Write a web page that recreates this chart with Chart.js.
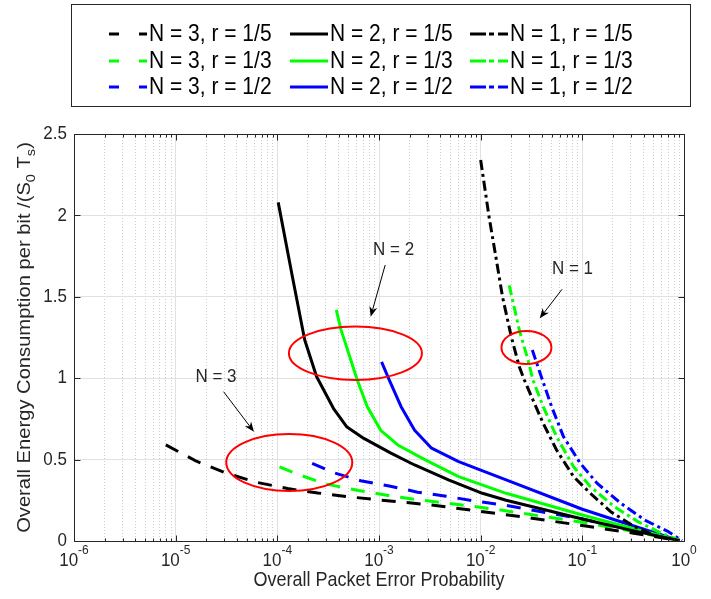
<!DOCTYPE html>
<html>
<head>
<meta charset="utf-8">
<script src="https://cdn.jsdelivr.net/npm/chart.js@4.4.1/dist/chart.umd.min.js"></script>
<style>
  html, body { margin: 0; padding: 0; background: #fff; }
  #wrap { width: 711px; height: 599px; }
</style>
</head>
<body>
<div id="wrap"><canvas id="grafico" width="711" height="599"></canvas></div>
<script>
// =============================================
//  DATA
// =============================================
// N = 3 (dashed)
const xN3r5 = [8.0e-6, 1.6e-5, 3.2e-5, 6.3e-5, 1.26e-4, 2.5e-4, 5.0e-4, 1.0e-3, 3.2e-3, 1.0e-2, 3.2e-2, 0.1, 0.32, 0.89];
const yN3r5 = [0.59, 0.49, 0.415, 0.36, 0.322, 0.295, 0.272, 0.252, 0.222, 0.182, 0.14, 0.095, 0.048, 0.003];
const xN3r3 = [1.05e-4, 1.58e-4, 3.0e-4, 6.3e-4, 1.23e-3, 2.29e-3, 4.27e-3, 8.3e-3, 1.58e-2, 0.1, 0.32, 0.89];
const yN3r3 = [0.456, 0.41, 0.35, 0.31, 0.28, 0.255, 0.235, 0.213, 0.19, 0.115, 0.058, 0.003];
const xN3r2 = [2.2e-4, 3.55e-4, 6.6e-4, 1.26e-3, 2.4e-3, 4.57e-3, 8.9e-3, 1.66e-2, 0.1, 0.32, 0.89];
const yN3r2 = [0.477, 0.42, 0.37, 0.338, 0.30, 0.275, 0.245, 0.222, 0.135, 0.065, 0.003];

// N = 2 (solid)
const xN2r5 = [1.02e-4, 1.43e-4, 1.86e-4, 2.43e-4, 3.56e-4, 4.84e-4, 7.1e-4, 1.31e-3, 2.24e-3, 4.82e-3, 1.04e-2, 1.78e-2, 0.1, 0.32, 0.89];
const yN2r5 = [2.08, 1.60, 1.235, 1.01, 0.815, 0.70, 0.63, 0.54, 0.467, 0.375, 0.293, 0.25, 0.135, 0.062, 0.004];
const xN2r3 = [3.8e-4, 4.22e-4, 6.1e-4, 7.67e-4, 1.04e-3, 1.53e-3, 2.82e-3, 6.07e-3, 1.78e-2, 0.1, 0.32, 0.89];
const yN2r3 = [1.42, 1.30, 0.99, 0.825, 0.68, 0.59, 0.50, 0.395, 0.293, 0.16, 0.075, 0.004];
const xN2r2 = [1.06e-3, 1.26e-3, 1.65e-3, 2.24e-3, 3.29e-3, 6.07e-3, 1.78e-2, 0.1, 0.32, 0.89];
const yN2r2 = [1.10, 0.99, 0.825, 0.68, 0.57, 0.487, 0.375, 0.195, 0.092, 0.004];

// N = 1 (dash-dot)
const xN1r5 = [1.0e-2, 1.21e-2, 1.41e-2, 1.64e-2, 2.0e-2, 2.4e-2, 2.69e-2, 3.27e-2, 4.12e-2, 5.58e-2, 8.2e-2, 0.12, 0.19, 0.326, 0.556, 0.89];
const yN1r5 = [2.34, 1.99, 1.746, 1.50, 1.255, 1.07, 0.989, 0.866, 0.723, 0.559, 0.395, 0.293, 0.18, 0.088, 0.026, 0.002];
const xN1r3 = [1.91e-2, 2.4e-2, 2.92e-2, 3.27e-2, 4.12e-2, 5.58e-2, 8.2e-2, 0.12, 0.206, 0.352, 0.603, 0.91];
const yN1r3 = [1.57, 1.296, 1.112, 0.989, 0.825, 0.641, 0.456, 0.334, 0.211, 0.119, 0.047, 0.003];
const xN1r2 = [3.22e-2, 3.8e-2, 4.99e-2, 6.52e-2, 9.55e-2, 0.14, 0.239, 0.41, 0.703, 0.955];
const yN1r2 = [1.173, 1.04, 0.825, 0.641, 0.477, 0.354, 0.232, 0.129, 0.057, 0.002];

// Eixos
const xTickValues = [1e-6, 1e-5, 1e-4, 1e-3, 1e-2, 1e-1, 1];
const xTickExps   = ['-6', '-5', '-4', '-3', '-2', '-1', '0'];
const yTickValues = [0, 0.5, 1, 1.5, 2, 2.5];
const yTickLabels = ['0', '0.5', '1', '1.5', '2', '2.5'];

// Anotações (coordenadas em dados)
const annotTexts  = ['N = 1', 'N = 2', 'N = 3'];
const annotTextX  = [8.0e-2, 1.39e-3, 2.49e-5];
const annotTextY  = [1.67, 1.79, 1.01];
const arrowTailX  = [6.31e-2, 1.15e-3, 2.96e-5];
const arrowTailY  = [1.546, 1.695, 0.917];
const arrowHeadX  = [3.81e-2, 8.28e-4, 5.89e-5];
const arrowHeadY  = [1.368, 1.378, 0.671];
const ellipseX    = [2.82e-2, 5.86e-4, 1.31e-4];
const ellipseY    = [1.189, 1.153, 0.482];
const ellipseRx   = [25, 66.5, 63];
const ellipseRy   = [16.5, 26.7, 28.5];

// =============================================
//  ESTILOS
// =============================================
const fontFam  = "'Liberation Sans', Arial, Helvetica, sans-serif";
const inkColor = '#262626';
const stretchY = 1.12;          // texto levemente "alto" como no original
const dashN3   = [14, 11];
const dashN1   = [10, 4, 3, 4];
const legDashN3 = [10, 20];
const legDashN1 = [16, 3, 5, 4];

const pts = (xs, ys) => xs.map((x, i) => ({ x, y: ys[i] }));

// ordem da legenda (linha a linha, 3 colunas)
const series = [
  { label: 'N = 3, r = 1/5', xs: xN3r5, ys: yN3r5, color: '#000000', dash: dashN3, leg: legDashN3 },
  { label: 'N = 2, r = 1/5', xs: xN2r5, ys: yN2r5, color: '#000000', dash: [],     leg: [] },
  { label: 'N = 1, r = 1/5', xs: xN1r5, ys: yN1r5, color: '#000000', dash: dashN1, leg: legDashN1 },
  { label: 'N = 3, r = 1/3', xs: xN3r3, ys: yN3r3, color: '#00ff00', dash: dashN3, leg: legDashN3 },
  { label: 'N = 2, r = 1/3', xs: xN2r3, ys: yN2r3, color: '#00ff00', dash: [],     leg: [] },
  { label: 'N = 1, r = 1/3', xs: xN1r3, ys: yN1r3, color: '#00ff00', dash: dashN1, leg: legDashN1 },
  { label: 'N = 3, r = 1/2', xs: xN3r2, ys: yN3r2, color: '#0000ff', dash: dashN3, leg: legDashN3 },
  { label: 'N = 2, r = 1/2', xs: xN2r2, ys: yN2r2, color: '#0000ff', dash: [],     leg: [] },
  { label: 'N = 1, r = 1/2', xs: xN1r2, ys: yN1r2, color: '#0000ff', dash: dashN1, leg: legDashN1 }
];

const isDecade = v => Math.abs(Math.log10(v) - Math.round(Math.log10(v))) < 1e-6;

// texto esticado na vertical (align / baseline já definidos no ctx)
function tallText(ctx, txt, x, y, size) {
  ctx.save();
  ctx.font = size + 'px ' + fontFam;
  ctx.translate(x, y);
  ctx.scale(1, stretchY);
  ctx.fillText(txt, 0, 0);
  ctx.restore();
}

function drawArrow(ctx, x0, y0, x1, y1) {
  const dx = x1 - x0, dy = y1 - y0;
  const len = Math.hypot(dx, dy);
  const ux = dx / len, uy = dy / len;
  const L = 10, W = 4;
  ctx.beginPath();
  ctx.moveTo(x0, y0);
  ctx.lineTo(x1 - ux * L * 0.6, y1 - uy * L * 0.6);
  ctx.stroke();
  ctx.beginPath();
  ctx.moveTo(x1, y1);
  ctx.lineTo(x1 - ux * L - uy * W, y1 - uy * L + ux * W);
  ctx.lineTo(x1 - ux * L * 0.7, y1 - uy * L * 0.7);
  ctx.lineTo(x1 - ux * L + uy * W, y1 - uy * L - ux * W);
  ctx.closePath();
  ctx.fill();
}

// =============================================
//  PLUGIN: moldura, rótulos, anotações, legenda
// =============================================
const extras = {
  id: 'extras',
  beforeDraw(chart) {
    const ctx = chart.ctx;
    ctx.save();
    ctx.fillStyle = '#fff';
    ctx.fillRect(0, 0, chart.width, chart.height);
    ctx.restore();
  },
  afterDatasetsDraw(chart) {
    const ctx = chart.ctx;
    const xs = chart.scales.x, ys = chart.scales.y;
    const a = chart.chartArea;
    const L = Math.round(a.left) + 0.5, R = Math.round(a.right) + 0.5;
    const T = Math.round(a.top) + 0.5, B = Math.round(a.bottom) + 0.5;

    ctx.save();
    // moldura
    ctx.strokeStyle = inkColor;
    ctx.lineWidth = 1;
    ctx.setLineDash([]);
    ctx.strokeRect(L, T, R - L, B - T);

    // marcas x (baixo e cima)
    ctx.beginPath();
    xs.ticks.forEach(t => {
      const px = Math.round(xs.getPixelForValue(t.value)) + 0.5;
      const len = isDecade(t.value) ? 6 : 3;
      ctx.moveTo(px, B); ctx.lineTo(px, B - len);
      ctx.moveTo(px, T); ctx.lineTo(px, T + len);
    });
    // marcas y (esquerda e direita)
    yTickValues.forEach(v => {
      const py = Math.round(ys.getPixelForValue(v)) + 0.5;
      ctx.moveTo(L, py); ctx.lineTo(L + 6, py);
      ctx.moveTo(R, py); ctx.lineTo(R - 6, py);
    });
    ctx.stroke();

    // rótulos y
    ctx.fillStyle = inkColor;
    ctx.textAlign = 'right';
    ctx.textBaseline = 'middle';
    yTickValues.forEach((v, i) => {
      tallText(ctx, yTickLabels[i], a.left - 7, ys.getPixelForValue(v), 17);
    });

    // rótulos x: 10^k
    ctx.textBaseline = 'alphabetic';
    ctx.textAlign = 'left';
    xTickValues.forEach((v, i) => {
      const px = xs.getPixelForValue(v);
      ctx.font = '17px ' + fontFam;
      const wb = ctx.measureText('10').width;
      ctx.font = '12px ' + fontFam;
      const we = ctx.measureText(xTickExps[i]).width;
      const x0 = px - (wb + we) / 2;
      tallText(ctx, '10', x0, 566, 17);
      tallText(ctx, xTickExps[i], x0 + wb, 554, 12);
    });

    // título x
    ctx.textAlign = 'center';
    tallText(ctx, 'Overall Packet Error Probability', (a.left + a.right) / 2, 586, 18);

    // título y com subscritos
    const parts = [
      ['Overall Energy Consumption per bit /(S', false],
      ['0', true],
      [' T', false],
      ['s', true],
      [')', false]
    ];
    ctx.save();
    ctx.translate(30, (a.top + a.bottom) / 2);
    ctx.rotate(-Math.PI / 2);
    ctx.scale(stretchY, 1);
    ctx.textAlign = 'left';
    let total = 0;
    parts.forEach(p => {
      ctx.font = (p[1] ? '13px ' : '18px ') + fontFam;
      total += ctx.measureText(p[0]).width;
    });
    let cx = -total / 2;
    parts.forEach(p => {
      ctx.font = (p[1] ? '13px ' : '18px ') + fontFam;
      ctx.fillText(p[0], cx, p[1] ? 5 : 0);
      cx += ctx.measureText(p[0]).width;
    });
    ctx.restore();

    // elipses vermelhas
    ctx.strokeStyle = '#ff0000';
    ctx.lineWidth = 2;
    ellipseX.forEach((ex, i) => {
      ctx.beginPath();
      ctx.ellipse(xs.getPixelForValue(ex), ys.getPixelForValue(ellipseY[i]), ellipseRx[i], ellipseRy[i], 0, 0, Math.PI * 2);
      ctx.stroke();
    });

    // setas e textos
    ctx.strokeStyle = '#000';
    ctx.fillStyle = '#000';
    ctx.lineWidth = 1;
    arrowTailX.forEach((tx, i) => {
      drawArrow(ctx,
        xs.getPixelForValue(tx), ys.getPixelForValue(arrowTailY[i]),
        xs.getPixelForValue(arrowHeadX[i]), ys.getPixelForValue(arrowHeadY[i]));
    });
    ctx.fillStyle = inkColor;
    ctx.textAlign = 'center';
    ctx.textBaseline = 'middle';
    annotTexts.forEach((t, i) => {
      tallText(ctx, t, xs.getPixelForValue(annotTextX[i]), ys.getPixelForValue(annotTextY[i]), 17);
    });

    // legenda
    ctx.fillStyle = '#fff';
    ctx.fillRect(71, 4, 619, 102);
    ctx.strokeStyle = inkColor;
    ctx.lineWidth = 1;
    ctx.strokeRect(71.5, 4.5, 619, 102);
    const colX = [149, 330, 510];
    const rowY = [34, 61, 87];
    ctx.textAlign = 'left';
    ctx.textBaseline = 'middle';
    series.forEach((s, i) => {
      const tx = colX[i % 3], ty = rowY[Math.floor(i / 3)];
      ctx.strokeStyle = s.color;
      ctx.lineWidth = 3;
      ctx.setLineDash(s.leg);
      ctx.beginPath();
      ctx.moveTo(tx - 40, ty);
      ctx.lineTo(tx - 2, ty);
      ctx.stroke();
      ctx.setLineDash([]);
      ctx.fillStyle = '#000';
      tallText(ctx, s.label, tx, ty + 1, 21);
    });
    ctx.restore();
  }
};

// =============================================
//  GRÁFICO
// =============================================
const ctx = document.getElementById('grafico').getContext('2d');

new Chart(ctx, {
  type: 'line',
  data: {
    datasets: series.map(s => ({
      label: s.label,
      data: pts(s.xs, s.ys),
      borderColor: s.color,
      backgroundColor: s.color,
      borderWidth: 3,
      borderDash: s.dash,
      borderJoinStyle: 'round',
      pointRadius: 0,
      tension: 0,
      fill: false
    }))
  },
  options: {
    responsive: false,
    animation: false,
    devicePixelRatio: 1,
    layout: { padding: { top: 134, right: 27, bottom: 0, left: 0 } },
    plugins: {
      legend: { display: false },
      tooltip: { enabled: false }
    },
    scales: {
      x: {
        type: 'logarithmic',
        min: 1e-6,
        max: 1,
        afterBuildTicks: scale => {
          const ticks = [];
          xTickValues.forEach(d => {
            for (let m = 1; m <= 9; m++) {
              if (m * d > 1.0000001) break;
              ticks.push({ value: m * d });
            }
          });
          scale.ticks = ticks;
        },
        afterFit: scale => { scale.height = 58; },
        ticks: { display: false },
        grid: {
          drawTicks: false,
          lineWidth: 1,
          color: c => (c.tick && !isDecade(c.tick.value)) ? '#cfcfcf' : '#e1e1e1'
        },
        border: {
          display: false,
          dash: c => (c.tick && !isDecade(c.tick.value)) ? [1, 2] : []
        }
      },
      y: {
        min: 0,
        max: 2.5,
        afterBuildTicks: scale => { scale.ticks = yTickValues.map(v => ({ value: v })); },
        afterFit: scale => { scale.width = 74; },
        ticks: { display: false },
        grid: { drawTicks: false, color: '#e1e1e1', lineWidth: 1 },
        border: { display: false }
      }
    }
  },
  plugins: [extras]
});
</script>
</body>
</html>
